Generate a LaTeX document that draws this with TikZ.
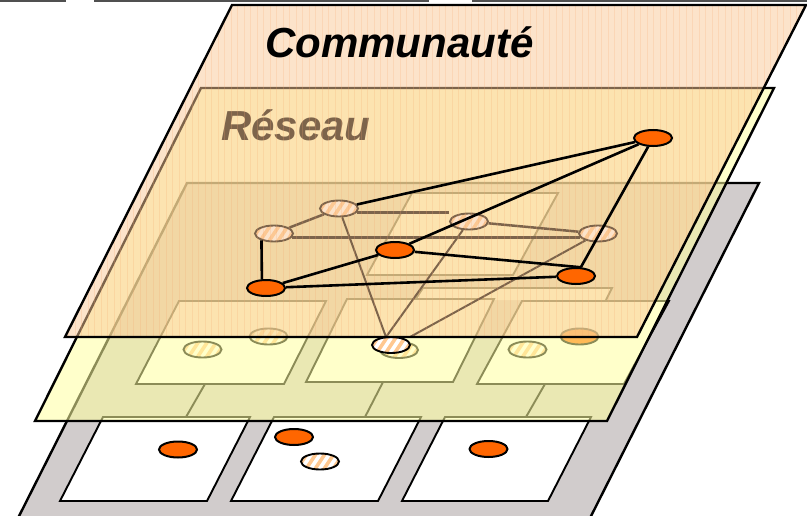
\documentclass[tikz,border=0pt]{standalone}
\usepackage{fontspec}
\setmainfont{Liberation Sans}
\usetikzlibrary{shapes.geometric}
\definecolor{orng}{HTML}{FF6600}
\definecolor{laygray}{HTML}{D1CCCC}
\definecolor{yel}{HTML}{FFFFA0}
\definecolor{pch}{HTML}{FAC896}
\definecolor{hatchc}{HTML}{FFC890}
\definecolor{stripec}{HTML}{F5A870}
\definecolor{artc}{HTML}{505050}
\tikzset{
  plane/.style={draw=black, line width=2.4pt, line join=miter},
  cellbox/.style={draw=black, line width=1.9pt, fill=white, line join=miter},
  cellline/.style={draw=black, line width=1.9pt},
  onode/.style={ellipse, draw=black, line width=2pt, fill=orng, minimum width=38pt, minimum height=16pt, inner sep=0pt},
  hnode/.style={ellipse, draw=black, line width=1.9pt, fill=white, minimum width=38pt, minimum height=16pt, inner sep=0pt,
    path picture={\foreach \k in {-27,-18,...,27}{\draw[hatchc, line width=3.5pt] ([xshift=\k pt]path picture bounding box.center) ++(-8pt,-12pt) -- ++(16pt,24pt);}}},
  blink/.style={draw=black, line width=2.6pt},
  ulink/.style={draw=black, line width=2.5pt},
  thinlink/.style={draw=black, line width=2pt},
  stripeline/.style={draw=stripec, line width=0.9pt, opacity=0.22},
  bigtext/.style={anchor=base west, inner sep=0pt, font=\fontsize{42}{50}\selectfont\bfseries\itshape},
  artline/.style={draw=artc, line width=1.6pt}
}
\begin{document}
\begin{tikzpicture}[x=1pt,y=-1pt]
\useasboundingbox (0,0) rectangle (807,515);
\clip (0,0) rectangle (807,515);
% top artefact lines
\draw[artline] (0,0.8) -- (66,0.8);
\draw[artline] (94,0.8) -- (429,0.8);
\draw[artline] (472,0.8) -- (807,0.8);

% ===== bottom (gray) plane =====
\path[plane, fill=laygray] (187,183) -- (759,183) -- (584,530) -- (12,530) -- cycle;
\path[cellbox] (412,193) -- (558,193) -- (513,275) -- (367,275) -- cycle;
\fill[white] (423,288) -- (612,288) -- (606,300) -- (415,300) -- cycle;
\draw[cellline] (415,300) -- (423,288) -- (612,288) -- (606,300);
\path[cellbox] (179,301) -- (326,301) -- (284,384) -- (136,384) -- cycle;
\path[cellbox] (347,299) -- (494,299) -- (453,382) -- (306,382) -- cycle;
\path[cellbox] (522,301) -- (669,301) -- (624,384) -- (477,384) -- cycle;
\path[cellbox] (103,417) -- (250,417) -- (207,501) -- (60,501) -- cycle;
\path[cellbox] (274,417) -- (421,417) -- (378,501) -- (231,501) -- cycle;
\path[cellbox] (445,417) -- (591,417) -- (548,501) -- (402,501) -- cycle;
\draw[cellline] (186,417) -- (205,384);
\draw[cellline] (365,417) -- (383,382);
\draw[cellline] (526,417) -- (545,384);
\node[hnode] (E1) at (202.5,349.5) {};
\node[hnode] (E2) at (268.5,336.5) {};
\node[hnode] (E3) at (399,350) {};
\node[hnode] (E4) at (527.5,349.5) {};
\node[onode, line width=1.9pt] (E5) at (579.5,336.5) {};
\node[onode] (g1) at (178,449.5) {};
\node[onode] (g2) at (294,437) {};
\node[hnode] (g3) at (320,461.5) {};
\node[onode] (g4) at (488.5,449) {};

% ===== middle (yellow) plane =====
\path[plane, fill=yel, fill opacity=0.55] (201,88) -- (774,88) -- (607,421) -- (35,421) -- cycle;
\node[bigtext] (reseau) at (221,140) {Réseau};
\node[hnode] (A) at (339,208.5) {};
\node[hnode] (B) at (274,233.5) {};
\node[hnode] (C) at (469,221.5) {};
\node[hnode] (D) at (598,233.5) {};
\node[hnode] (W) at (391,345) {};
\coordinate (wa) at (386,337);
\coordinate (wb) at (410,337);
\draw[ulink] (B) -- (A);
\draw[ulink] (A.347) -- (A.347 -| C.west);
\draw[ulink] (B.347) -- (D.193);
\draw[ulink] (C) -- (D);
\draw[thinlink] (A) -- (wa);
\draw[thinlink] (C) -- (wa);
\draw[thinlink] (D) -- (wb);

% ===== top (peach) plane =====
\path[fill=pch, fill opacity=0.5] (232,5) -- (806,5) -- (637,337) -- (65,337) -- cycle;
\begin{scope}
\clip (232,5) -- (806,5) -- (637,337) -- (65,337) -- cycle;
\foreach \x in {62,68.5,...,810} {\draw[stripeline] (\x,0) -- (\x,340);}
\end{scope}
\path[plane] (232,5) -- (806,5) -- (637,337) -- (65,337) -- cycle;
\node[bigtext] (comm) at (265,57) {Communauté};
\node[onode] (T) at (653,138) {};
\node[onode] (N1) at (395,250) {};
\node[onode] (N2) at (266,288) {};
\node[onode] (N3) at (576,276) {};
\draw[blink] (T) -- (A);
\draw[blink] (T) -- (N1);
\draw[blink] (T) -- (N3);
\draw[blink] (N1) -- (N3.60);
\draw[blink] (N2) -- (N1);
\draw[blink] (N2) -- (N3);
\draw[blink] (N2.115) -- (B.209);
\end{tikzpicture}
\end{document}
